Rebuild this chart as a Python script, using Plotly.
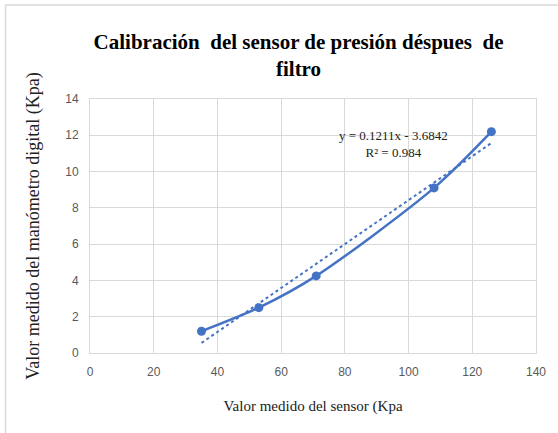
import plotly.graph_objects as go

# Sensor reading vs. digital manometer reading (kPa)
sensor_kpa = [35, 53, 71, 108, 126]
manometer_kpa = [1.2, 2.5, 4.25, 9.1, 12.2]

# Linear trendline coefficients
slope = 0.1211
intercept = -3.6842
r_squared = 0.984

blue = "#4472C4"
grid = "#D9D9D9"
tick_color = "#595959"
serif = "Liberation Serif, Times New Roman, serif"

trend_x = [min(sensor_kpa), max(sensor_kpa)]
trend_y = [slope * v + intercept for v in trend_x]

fig = go.Figure()
fig.add_trace(go.Scatter(
    x=sensor_kpa, y=manometer_kpa, mode="lines+markers",
    line=dict(color=blue, width=2.5, shape="spline", smoothing=0.8),
    marker=dict(color=blue, size=9),
    showlegend=False, hoverinfo="x+y",
))
fig.add_trace(go.Scatter(
    x=trend_x, y=trend_y, mode="lines",
    line=dict(color=blue, width=2, dash="dot"),
    showlegend=False, hoverinfo="skip",
))

fig.add_annotation(
    x=95.4, y=11.52, xref="x", yref="y",
    text=f"y = {slope}x - {abs(intercept)}<br>R² = {r_squared}",
    showarrow=False, align="center",
    font=dict(family=serif, size=13, color="#222222"),
)

axis_common = dict(
    showgrid=True, gridcolor=grid, gridwidth=1,
    showline=True, linecolor=grid, linewidth=1, mirror=True,
    zeroline=False, ticks="", ticklabelstandoff=8,
    tickfont=dict(family="Liberation Sans, Arial, sans-serif", size=12, color=tick_color),
)

fig.update_layout(
    width=558, height=433,
    margin=dict(l=90, r=19, t=99, b=80),
    paper_bgcolor="white", plot_bgcolor="white",
    title=dict(
        text="<b>Calibración  del sensor de presión déspues  de<br>filtro</b>",
        x=0.535, xanchor="center", y=0.887, yanchor="middle",
        font=dict(family=serif, size=21, color="#000000"),
    ),
    xaxis=dict(
        range=[0, 140], dtick=20,
        title=dict(text="Valor medido del sensor (Kpa", standoff=22,
                   font=dict(family=serif, size=15, color="#222222")),
        **axis_common,
    ),
    yaxis=dict(
        range=[0, 14], dtick=2,
        title=dict(text="Valor medido del manómetro digital (Kpa)", standoff=20,
                   font=dict(family=serif, size=18, color="#222222")),
        **axis_common,
    ),
    shapes=[dict(
        type="rect", xref="paper", yref="paper",
        x0=-85 / 449, x1=1.2, y0=-0.5, y1=1 + 94 / 254,
        line=dict(color="#D9D9D9", width=1.5), fillcolor="rgba(0,0,0,0)",
        layer="below",
    )],
)

fig.write_html("out.html")
